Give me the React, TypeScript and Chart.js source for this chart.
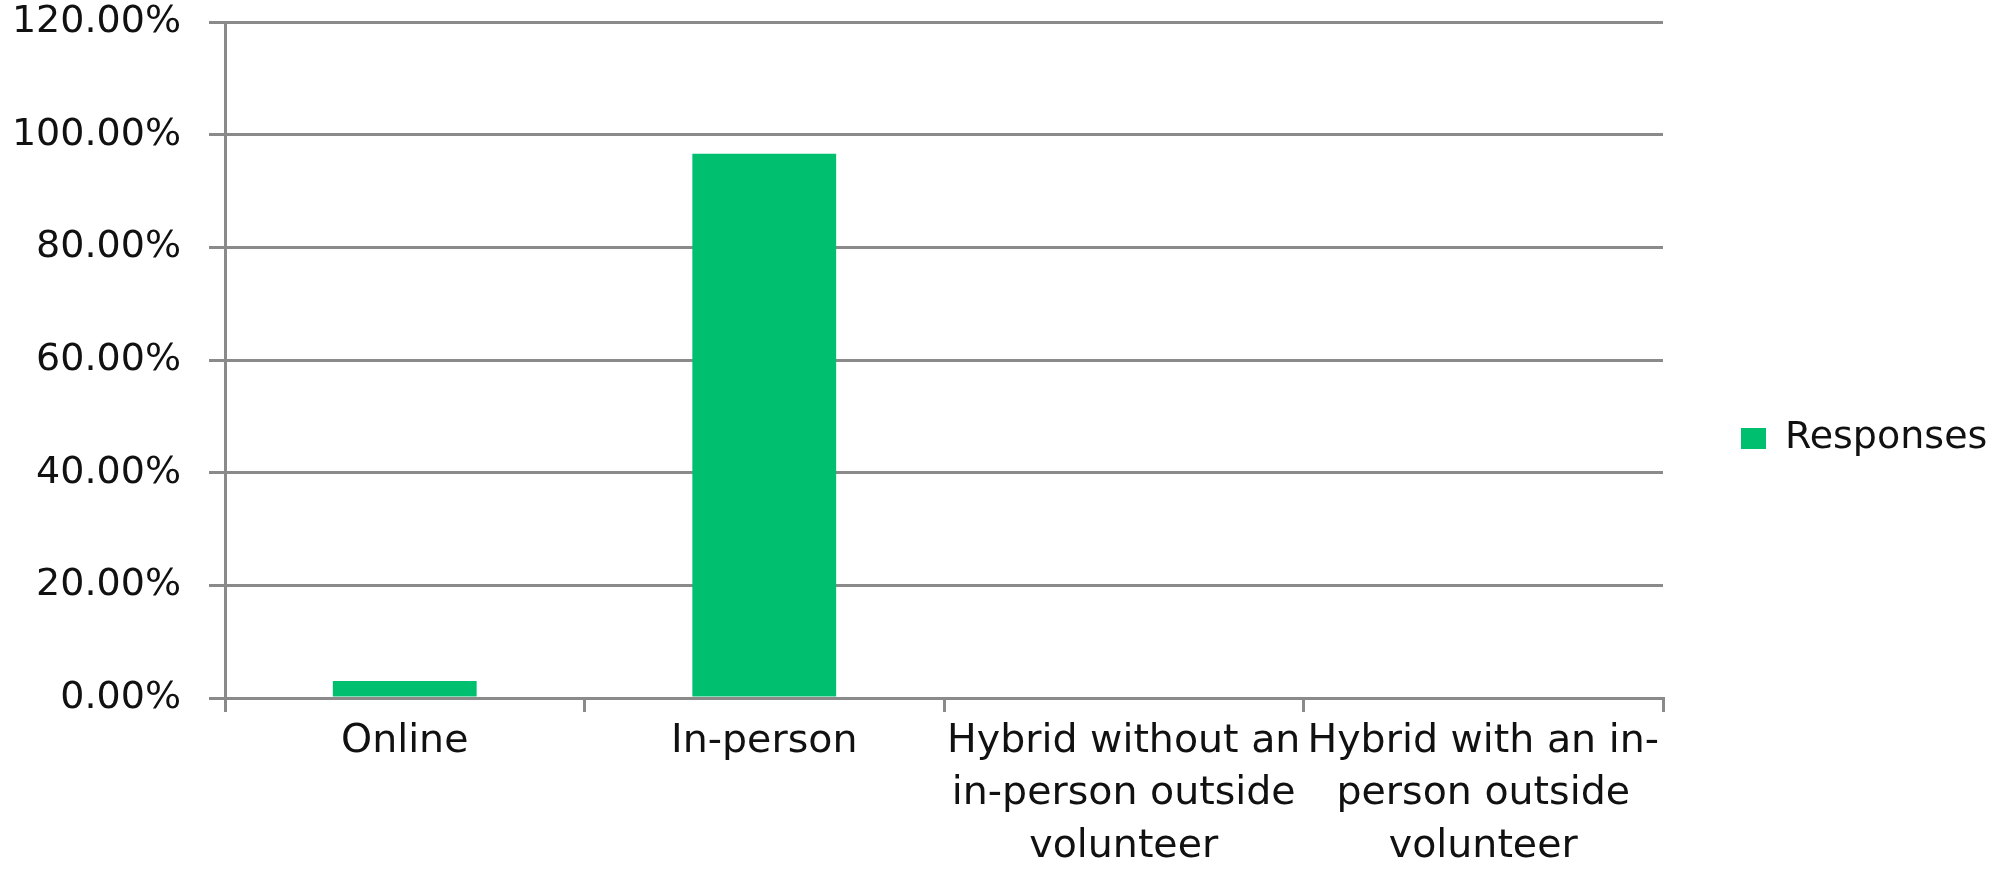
import React, { useEffect, useRef } from "react";
import { Chart, registerables } from "chart.js";

Chart.register(...registerables);

const categories: (string | string[])[] = [
  "Online",
  "In-person",
  ["Hybrid without an", "in-person outside", "volunteer"],
  ["Hybrid with an in-", "person outside", "volunteer"],
];
const seriesLabel = "Responses";
const responses = [3.0, 96.6, 0, 0];
const yTickValues = [0, 20, 40, 60, 80, 100, 120];

const W = 1997;
const H = 869;
const GRID = "#8a8a8a";
const TEXT = "#111111";
const FONT = "'DejaVu Sans', sans-serif";

const layoutFix = {
  id: "layoutFix",
  beforeLayout(chart: any) {
    const lg = chart.legend;
    if (lg && !lg._patchedFit) {
      const orig = lg.fit.bind(lg);
      lg.fit = function () {
        orig();
        this.width = W - 1663;
      };
      lg._patchedFit = true;
    }
  },
  afterLayout(chart: any) {
    const lg = chart.legend;
    if (lg) {
      lg.left = 1731;
      lg.right = W;
      lg.width = W - 1731;
      lg.top = 0;
      lg.bottom = H + 8;
      lg.height = H + 8;
    }
  },
};

export default function App() {
  const ref = useRef<HTMLCanvasElement | null>(null);
  useEffect(() => {
    if (!ref.current) return;
    const chart = new Chart(ref.current, {
      type: "bar",
      data: {
        labels: categories,
        datasets: [
          {
            label: seriesLabel,
            data: responses,
            backgroundColor: "#00bf6f",
            borderWidth: 0,
            categoryPercentage: 1,
            barPercentage: 0.4,
          },
        ],
      },
      plugins: [layoutFix],
      options: {
        animation: false,
        responsive: false,
        devicePixelRatio: 1,
        layout: { padding: { top: 22, left: 0, right: 0, bottom: 0 } },
        plugins: {
          tooltip: { enabled: false },
          legend: {
            display: true,
            position: "right",
            align: "center",
            labels: {
              boxWidth: 25,
              boxHeight: 21,
              padding: 10,
              color: TEXT,
              font: { family: FONT, size: 38 },
            },
          },
        },
        scales: {
          x: {
            type: "category",
            offset: true,
            grid: {
              display: true,
              offset: true,
              drawOnChartArea: false,
              drawTicks: true,
              tickLength: 14,
              tickWidth: 3,
              tickColor: GRID,
              color: GRID,
              lineWidth: 3,
            },
            border: { display: true, color: GRID, width: 3 },
            ticks: {
              autoSkip: false,
              maxRotation: 0,
              minRotation: 0,
              padding: 4,
              color: TEXT,
              font: { family: FONT, size: 39.5, lineHeight: 1.32 },
            },
            afterFit(scale: any) {
              scale.height = H - 698;
              scale.paddingLeft = 0;
              scale.paddingRight = 0;
            },
          },
          y: {
            min: 0,
            max: 120,
            afterBuildTicks(scale: any) {
              scale.ticks = yTickValues.map((v) => ({ value: v }));
            },
            grid: {
              display: true,
              color: GRID,
              lineWidth: 3,
              drawTicks: true,
              tickLength: 16,
              tickColor: GRID,
              tickWidth: 3,
            },
            border: { display: true, color: GRID, width: 3 },
            ticks: {
              padding: 28,
              color: TEXT,
              font: { family: FONT, size: 38, lineHeight: 1.0 },
              callback: (v: any) => Number(v).toFixed(2) + "%",
            },
            afterFit(scale: any) {
              scale.width = 225;
              scale.paddingTop = 0;
              scale.paddingBottom = 0;
            },
          },
        },
      },
    });
    return () => chart.destroy();
  }, []);
  return (
    <div style={{ position: "fixed", left: 0, top: 0, width: W, height: H, background: "#fff" }}>
      <canvas ref={ref} width={W} height={H} style={{ width: W, height: H, display: "block" }} />
    </div>
  );
}
